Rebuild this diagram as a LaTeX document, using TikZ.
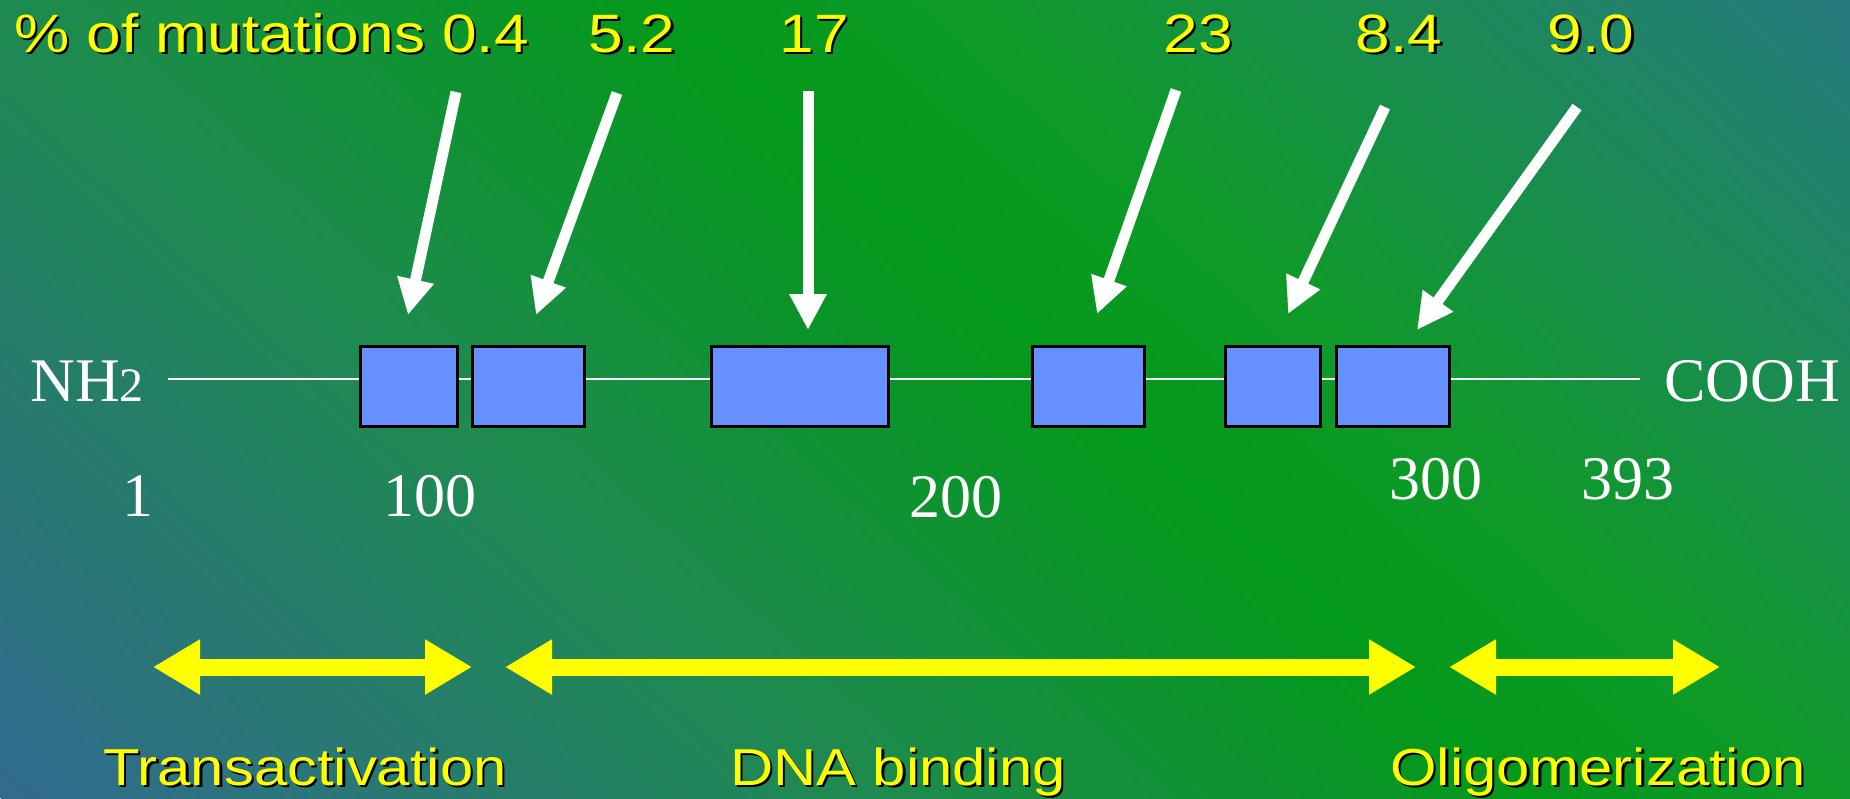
\documentclass[tikz,border=0pt]{standalone}
\usepackage{fontspec}
\setmainfont{Liberation Serif}
\newfontfamily\labelsans[FakeStretch=1.15]{Liberation Sans}
\usetikzlibrary{arrows.meta,calc}

% background colours, along the diagonal from lower left to upper right
\definecolor{bgA}{HTML}{316A90}
\definecolor{bgB}{HTML}{1E8A50}
\definecolor{bgC}{HTML}{03991A}
\definecolor{bgD}{HTML}{0F9A2A}
\definecolor{bgE}{HTML}{277A80}
\definecolor{domainblue}{HTML}{6690FF}
\definecolor{labelyellow}{HTML}{FFFF00}

\pgfdeclarehorizontalshading{bgshade}{100bp}{%
  color(0bp)=(bgA); color(25bp)=(bgA); color(41bp)=(bgB);
  color(53.13bp)=(bgC); color(59bp)=(bgD); color(75bp)=(bgE);
  color(100bp)=(bgE)}

% yellow text with a dark drop shadow
\newcommand\yellowlabel[5]{%
  \node[#2, text=black, anchor=#3] (#1-sh) at ($(#4)+(2.5,2.5)$) {#5};
  \node[#2, anchor=#3] (#1) at (#4) {#5};}

\tikzset{
  toplabel/.style={text=labelyellow, inner sep=0pt,
    font=\labelsans\fontsize{27}{32}\selectfont},
  domainlabel/.style={text=labelyellow, inner sep=0pt,
    font=\labelsans\fontsize{26}{31}\selectfont},
  residue/.style={text=white, inner sep=0pt,
    font=\fontsize{31}{36}\selectfont},
  domainbox/.style={draw=black, line width=1.5pt, fill=domainblue,
    inner sep=0pt, minimum height=40pt},
  chain/.style={draw=white, line width=1.25pt},
  hitarrow/.style={draw=white, line width=5.5pt,
    -{Triangle[length=18pt,width=17.5pt]}},
  spanarrow/.style={draw=labelyellow, line width=8.5pt,
    {Triangle[length=23.5pt,width=26pt]}-{Triangle[length=23.5pt,width=26pt]}}
}

\begin{document}
\begin{tikzpicture}[x=0.5pt,y=-0.5pt]
\useasboundingbox (0,0) rectangle (1850,798);

% diagonal gradient background
\begin{scope}
  \clip (0,0) rectangle (1850,798);
  \begin{scope}[transform canvas={shift={(660,0)},rotate=47.5}]
    \shade[shading=bgshade] (-1034,-1600) rectangle (804,1600);
  \end{scope}
\end{scope}

% protein chain
\coordinate (chainL) at (168,379);
\coordinate (chainR) at (1640,379);
\draw[chain] (chainL) -- (chainR);

\node[residue, anchor=base west] (nterm) at (30,401)
  {NH{\fontsize{24}{28}\selectfont 2}};
\node[residue, anchor=base west] (cterm) at (1664,401) {COOH};

% conserved domains
\node[domainbox, minimum width=48.5pt] (d1) at (408.5,386) {};
\node[domainbox, minimum width=56pt]   (d2) at (528,386) {};
\node[domainbox, minimum width=88.5pt] (d3) at (799.5,386) {};
\node[domainbox, minimum width=56pt]   (d4) at (1088,386) {};
\node[domainbox, minimum width=47.5pt] (d5) at (1272.5,386) {};
\node[domainbox, minimum width=56.5pt] (d6) at (1392.5,386) {};

% residue numbers
\node[residue, anchor=base] (r1)   at (138,516) {1};
\node[residue, anchor=base] (r100) at (430,516) {100};
\node[residue, anchor=base] (r200) at (956,517) {200};
\node[residue, anchor=base] (r300) at (1436,499) {300};
\node[residue, anchor=base] (r393) at (1628,499) {393};

% mutation frequencies
\yellowlabel{m1}{toplabel}{base west}{14,52}{\% of mutations 0.4}
\yellowlabel{m2}{toplabel}{base}{632,52}{5.2}
\yellowlabel{m3}{toplabel}{base}{814,52}{17}
\yellowlabel{m4}{toplabel}{base}{1198,52}{23}
\yellowlabel{m5}{toplabel}{base}{1399,52}{8.4}
\yellowlabel{m6}{toplabel}{base}{1591,52}{9.0}

% arrows pointing at the domains
\coordinate (h1a) at (456,92);   \coordinate (h1b) at (408,315);
\coordinate (h2a) at (617,93);   \coordinate (h2b) at (536,315);
\coordinate (h3a) at (808,91);   \coordinate (h3b) at (808,330);
\coordinate (h4a) at (1176,90);  \coordinate (h4b) at (1097,314);
\coordinate (h5a) at (1385,107); \coordinate (h5b) at (1288,314);
\coordinate (h6a) at (1577,107); \coordinate (h6b) at (1417,330);
\draw[hitarrow] (h1a) -- (h1b);
\draw[hitarrow] (h2a) -- (h2b);
\draw[hitarrow] (h3a) -- (h3b);
\draw[hitarrow] (h4a) -- (h4b);
\draw[hitarrow] (h5a) -- (h5b);
\draw[hitarrow] (h6a) -- (h6b);

% functional regions
\coordinate (s1a) at (153,667);  \coordinate (s1b) at (472,667);
\coordinate (s2a) at (505,667);  \coordinate (s2b) at (1416,667);
\coordinate (s3a) at (1449,667); \coordinate (s3b) at (1720,667);
\draw[spanarrow] (s1a) -- (s1b);
\draw[spanarrow] (s2a) -- (s2b);
\draw[spanarrow] (s3a) -- (s3b);

\yellowlabel{f1}{domainlabel}{base}{305,785}{Transactivation}
\yellowlabel{f2}{domainlabel}{base}{898,785}{DNA binding}
\yellowlabel{f3}{domainlabel}{base}{1598,785}{Oligomerization}
\end{tikzpicture}
\end{document}
